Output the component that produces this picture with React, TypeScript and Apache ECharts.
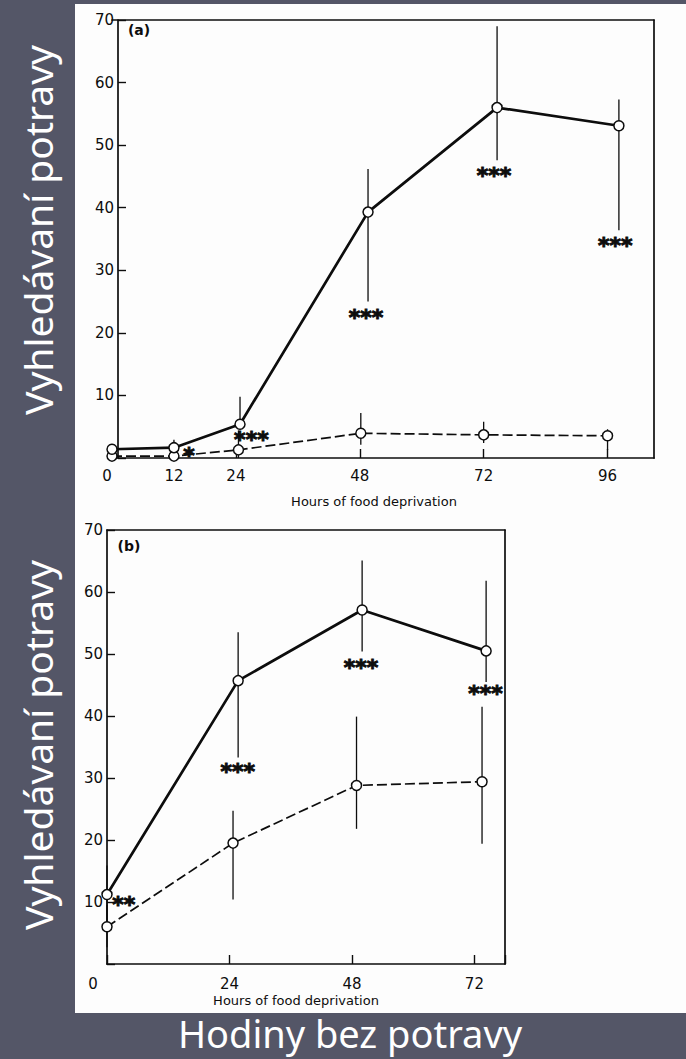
import React, { useEffect, useRef } from 'react';
import * as echarts from 'echarts';

// ---------- Panel (a): hours of deprivation 0–96 ----------
const xTicksA = [0, 12, 24, 48, 72, 96];
const xTickMarksA = [12, 24, 48, 72, 96];
const hoursSolidA = [0, 12, 24.8, 49.6, 74.6, 98.2];
const meanSolidA = [1.4, 1.65, 5.4, 39.3, 56.0, 53.1];
const lowSolidA = [1.4, 0.6, 5.4, 25.0, 47.6, 36.4];
const highSolidA = [1.4, 2.9, 9.8, 46.2, 69.0, 57.3];
const hoursDashedA = [0, 12, 24.5, 48.2, 72, 96];
const meanDashedA = [0.3, 0.3, 1.3, 3.95, 3.7, 3.55];
const lowDashedA = [0.3, 0.3, 0, 2.1, 2.4, 1.3];
const highDashedA = [0.3, 0.3, 4.4, 7.2, 5.8, 4.6];
const sigLabelsA = ['*', '***', '***', '***', '***'];
const sigHoursA = [14.9, 27.0, 49.2, 74.0, 97.5];
const sigValuesA = [1.2, 3.7, 23.2, 45.9, 34.7];

// ---------- Panel (b): hours of deprivation 0–72 ----------
const xTicksB = [0, 24, 48, 72];
const hoursSolidB = [0, 25.7, 50.0, 74.3];
const meanSolidB = [11.2, 45.7, 57.1, 50.5];
const lowSolidB = [6.5, 33.3, 50.4, 45.5];
const highSolidB = [15.9, 53.5, 65.1, 61.8];
const hoursDashedB = [0, 24.7, 48.9, 73.5];
const meanDashedB = [6.0, 19.5, 28.8, 29.4];
const lowDashedB = [2.7, 10.4, 21.8, 19.4];
const highDashedB = [9.5, 24.7, 39.9, 41.5];
const sigLabelsB = ['**', '***', '***', '***'];
const sigHoursB = [3.3, 25.6, 49.8, 74.2];
const sigValuesB = [10.4, 31.8, 48.7, 44.4];

// ---------- Texts ----------
const yAxisTitle = 'Vyhledávaní potravy';
const xAxisTitle = 'Hodiny bez potravy';
const innerXName = 'Hours of food deprivation';
const panelTags = ['(a)', '(b)'];

const INK = '#0d0d0d';
const FONT = 'DejaVu Sans';

export default function App() {
  const ref = useRef<HTMLDivElement>(null);

  useEffect(() => {
    const chart = echarts.init(ref.current as HTMLDivElement, null, { renderer: 'svg' });

    const pair = (xs: number[], ys: number[]) => xs.map((x, i) => [x, ys[i]]);
    const bars = (xs: number[], lo: number[], hi: number[]) => xs.map((x, i) => [x, lo[i], hi[i]]);
    const sig = (labels: string[], xs: number[], ys: number[]) =>
      labels.map((t, i) => ({ value: [xs[i], ys[i]], name: t }));

    const axisLine = { show: true, onZero: false, lineStyle: { color: INK, width: 1.7 } };

    const errorSeries = (idx: number, data: number[][]) => ({
      type: 'custom',
      xAxisIndex: idx,
      yAxisIndex: idx,
      data,
      z: 1,
      silent: true,
      encode: { x: 0, y: [1, 2] },
      renderItem: (_p: any, api: any) => {
        const a = api.coord([api.value(0), api.value(1)]);
        const b = api.coord([api.value(0), api.value(2)]);
        return {
          type: 'line',
          shape: { x1: a[0], y1: a[1], x2: b[0], y2: b[1] },
          style: { stroke: INK, lineWidth: 1.3 },
        };
      },
    });

    const lineSeries = (idx: number, data: number[][], dashed: boolean) => ({
      type: 'line',
      xAxisIndex: idx,
      yAxisIndex: idx,
      data,
      z: 3,
      silent: true,
      symbol: 'circle',
      symbolSize: 10,
      showSymbol: true,
      lineStyle: { color: INK, width: dashed ? 1.7 : 2.7, type: dashed ? [10, 4] : 'solid' },
      itemStyle: { color: '#ffffff', borderColor: INK, borderWidth: 1.5 },
      emphasis: { disabled: true },
    });

    const sigSeries = (idx: number, data: any[]) => ({
      type: 'scatter',
      xAxisIndex: idx,
      yAxisIndex: idx,
      data,
      z: 4,
      silent: true,
      symbolSize: 1,
      itemStyle: { color: 'rgba(0,0,0,0)', opacity: 1 },
      label: {
        show: true,
        position: 'inside',
        formatter: '{b}',
        color: INK,
        opacity: 1,
        fontFamily: FONT,
        fontWeight: 'bold',
        fontSize: 22,
        textBorderColor: INK,
        textBorderWidth: 1,
        offset: [0, 5],
      },
    });

    const tickLabel = { color: INK, fontFamily: FONT, fontSize: 15 };

    const yMain = (gi: number, offset: number) => ({
      type: 'value',
      gridIndex: gi,
      position: 'left',
      min: 0,
      max: 70,
      interval: 10,
      offset,
      axisLine,
      axisTick: { show: true, inside: true, length: 8, lineStyle: { color: INK, width: 1.4 } },
      axisLabel: {
        ...tickLabel,
        margin: 4,
        formatter: (v: number) => (v === 0 ? '' : String(v)),
      },
      splitLine: { show: false },
    });

    const yFrame = (gi: number) => ({
      type: 'value',
      gridIndex: gi,
      position: 'right',
      min: 0,
      max: 70,
      axisLine,
      axisTick: { show: false },
      axisLabel: { show: false },
      splitLine: { show: false },
    });

    const xFrame = (gi: number, max: number) => ({
      type: 'value',
      gridIndex: gi,
      position: 'top',
      min: 0,
      max,
      axisLine,
      axisTick: { show: false },
      axisLabel: { show: false },
      splitLine: { show: false },
    });

    const zeroRich = (pad: number) => ({
      z: { padding: [0, pad, 0, 0], ...tickLabel },
    });

    const nameStyle = (padRight: number) => ({
      color: INK,
      fontFamily: FONT,
      fontSize: 13,
      padding: [0, padRight, 0, 0],
    });

    const option: any = {
      animation: false,
      backgroundColor: '#545667',
      grid: [
        { left: 112, top: 20, width: 542, height: 438 },
        { left: 107, top: 530, width: 398, height: 434 },
      ],
      xAxis: [
        {
          type: 'value',
          gridIndex: 0,
          position: 'bottom',
          min: 0,
          max: 105,
          axisLine,
          axisTick: {
            show: true,
            inside: true,
            length: 9,
            customValues: xTickMarksA,
            lineStyle: { color: INK, width: 1.4 },
          },
          axisLabel: {
            ...tickLabel,
            customValues: xTicksA,
            margin: 10,
            formatter: (v: number) => (v === 0 ? '{z|0}' : String(v)),
            rich: zeroRich(10),
          },
          splitLine: { show: false },
          name: innerXName,
          nameLocation: 'middle',
          nameGap: 37,
          nameTextStyle: nameStyle(18),
        },
        xFrame(0, 105),
        {
          type: 'value',
          gridIndex: 1,
          position: 'bottom',
          min: 0,
          max: 78,
          interval: 24,
          axisLine,
          axisTick: { show: true, inside: true, length: 9, lineStyle: { color: INK, width: 1.4 } },
          axisLabel: {
            ...tickLabel,
            customValues: xTicksB,
            margin: 12,
            formatter: (v: number) => (v === 0 ? '{z|0}' : String(v)),
            rich: zeroRich(28),
          },
          splitLine: { show: false },
          name: innerXName,
          nameLocation: 'middle',
          nameGap: 30,
          nameTextStyle: nameStyle(20),
        },
        xFrame(1, 78),
      ],
      yAxis: [yMain(0, -6), yFrame(0), yMain(1, 0), yFrame(1)],
      series: [
        errorSeries(0, bars(hoursSolidA, lowSolidA, highSolidA)),
        errorSeries(0, bars(hoursDashedA, lowDashedA, highDashedA)),
        lineSeries(0, pair(hoursDashedA, meanDashedA), true),
        lineSeries(0, pair(hoursSolidA, meanSolidA), false),
        sigSeries(0, sig(sigLabelsA, sigHoursA, sigValuesA)),
        errorSeries(2, bars(hoursSolidB, lowSolidB, highSolidB)),
        errorSeries(2, bars(hoursDashedB, lowDashedB, highDashedB)),
        lineSeries(2, pair(hoursDashedB, meanDashedB), true),
        lineSeries(2, pair(hoursSolidB, meanSolidB), false),
        sigSeries(2, sig(sigLabelsB, sigHoursB, sigValuesB)),
      ],
      graphic: [
        {
          type: 'rect',
          z: -10,
          silent: true,
          shape: { x: 75, y: 4, width: 611, height: 1009 },
          style: { fill: '#fdfdfd' },
        },
        {
          type: 'text',
          x: 139,
          y: 30,
          silent: true,
          style: { text: panelTags[0], fill: INK, fontFamily: FONT, fontWeight: 'bold', fontSize: 14, align: 'center', verticalAlign: 'middle' },
        },
        {
          type: 'text',
          x: 129,
          y: 546,
          silent: true,
          style: { text: panelTags[1], fill: INK, fontFamily: FONT, fontWeight: 'bold', fontSize: 14, align: 'center', verticalAlign: 'middle' },
        },
        {
          type: 'text',
          x: 37,
          y: 230,
          rotation: Math.PI / 2,
          silent: true,
          style: { text: yAxisTitle, fill: '#ffffff', fontFamily: 'Noto Sans', fontSize: 39, align: 'center', verticalAlign: 'middle' },
        },
        {
          type: 'text',
          x: 37,
          y: 745,
          rotation: Math.PI / 2,
          silent: true,
          style: { text: yAxisTitle, fill: '#ffffff', fontFamily: 'Noto Sans', fontSize: 39, align: 'center', verticalAlign: 'middle' },
        },
        {
          type: 'text',
          x: 350,
          y: 1033,
          silent: true,
          style: { text: xAxisTitle, fill: '#ffffff', fontFamily: 'Noto Sans', fontSize: 38, lineHeight: 38, align: 'center', verticalAlign: 'middle' },
        },
      ],
    };

    chart.setOption(option);
    return () => chart.dispose();
  }, []);

  return (
    <div
      ref={ref}
      style={{ position: 'fixed', left: 0, top: 0, width: 686, height: 1059 }}
    />
  );
}
